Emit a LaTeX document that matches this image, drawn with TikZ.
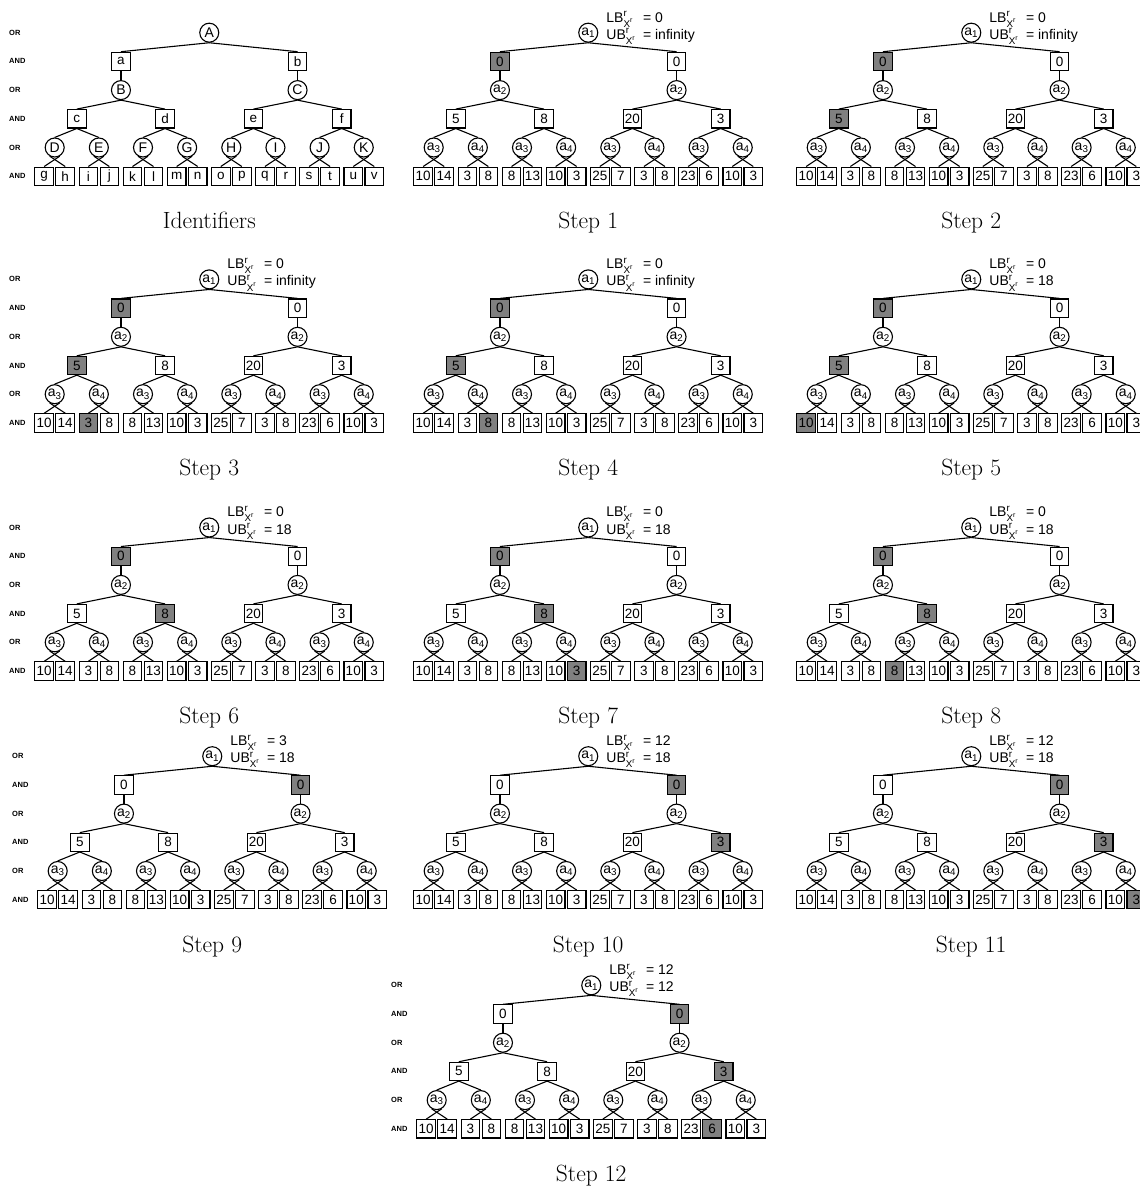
\documentclass[tikz,border=0pt]{standalone}
\usepackage{amsmath}
\usepackage{fontspec}
\setsansfont{Liberation Sans}
\definecolor{shd}{gray}{0.5}
\tikzset{
  edge/.style={line width=1.1pt},
  andbox/.style={draw, line width=1.1pt, minimum width=18.6pt, minimum height=18.3pt, inner sep=0pt, font=\sffamily\fontsize{13.5}{14}\selectfont},
  orcirc/.style={draw, circle, fill=white, line width=1.1pt, minimum size=19pt, inner sep=0pt, font=\sffamily\fontsize{14}{14}\selectfont},
  lvl/.style={anchor=west, inner sep=0pt, font=\sffamily\bfseries\fontsize{7.5}{8}\selectfont},
  capt/.style={anchor=base, inner sep=0pt, font=\fontsize{23.5}{28}\selectfont},
  bnd/.style={anchor=base west, inner sep=0pt, font=\sffamily\fontsize{14}{16}\selectfont},
}
% label sets
\newcommand\useId{%
  \def\LRoot{A}%
  \def\LOne{a/B,b/C}%
  \def\LThree{c,d,e,f}%
  \def\LFour{D,E,F,G,H,I,J,K}%
  \def\LLeaf{g,h,i,j,k,l,m,n,o,p,q,r,s,t,u,v}}
\newcommand\useVal{%
  \def\LRoot{a\textsubscript{1}}%
  \def\LOne{0/a\textsubscript{2},0/a\textsubscript{2}}%
  \def\LThree{5,8,20,3}%
  \def\LFour{a\textsubscript{3},a\textsubscript{4},a\textsubscript{3},a\textsubscript{4},a\textsubscript{3},a\textsubscript{4},a\textsubscript{3},a\textsubscript{4}}%
  \def\LLeaf{10,14,3,8,8,13,10,3,25,7,3,8,23,6,10,3}}
% #1 name #2 ox #3 oy #4 shaded AND1 #5 shaded AND3 #6 shaded leaf #7 caption
\newcommand\drawtree[7]{%
\begin{scope}[shift={(#2,#3)}]
  \node[orcirc] (#1-r) at (209.25,0) {\LRoot};
  \foreach \lab/\olab [count=\j] in \LOne {
    \pgfmathsetmacro\xx{120.95+176.6*(\j-1)}
    \ifnum\j=#4\relax\def\fc{shd}\else\def\fc{white}\fi
    \node[andbox,fill=\fc] (#1-A\j) at (\xx,28.7) {\lab};
    \node[orcirc] (#1-O\j) at (\xx,57.4) {\olab};
    \draw[edge] (#1-r.south) -- (#1-A\j.north);
    \draw[edge] (#1-A\j.south) -- (#1-O\j.north);
  }
  \foreach \lab [count=\j] in \LThree {
    \pgfmathsetmacro\xx{76.8+88.3*(\j-1)}
    \pgfmathtruncatemacro\pidx{(\j+1)/2}
    \ifnum\j=#5\relax\def\fc{shd}\else\def\fc{white}\fi
    \node[andbox,fill=\fc] (#1-B\j) at (\xx,86.1) {\lab};
    \draw[edge] (#1-O\pidx.south) -- (#1-B\j.north);
  }
  \foreach \lab [count=\j] in \LFour {
    \pgfmathsetmacro\xx{54.7+44.15*(\j-1)}
    \pgfmathtruncatemacro\pidx{(\j+1)/2}
    \node[orcirc] (#1-C\j) at (\xx,114.8) {\lab};
    \draw[edge] (#1-B\pidx.south) -- (#1-C\j.north);
  }
  \foreach \lab [count=\j] in \LLeaf {
    \pgfmathtruncatemacro\pidx{(\j+1)/2}
    \pgfmathsetmacro\xx{54.7+44.15*(\pidx-1)+21*(\j-2*\pidx)+10.5}
    \pgfmathtruncatemacro\ang{\j-2*\pidx==0 ? 240 : 300}
    \ifnum\j=#6\relax\def\fc{shd}\else\def\fc{white}\fi
    \node[andbox,fill=\fc] (#1-L\j) at (\xx,143.5) {\lab};
    \draw[edge] (#1-C\pidx.\ang) -- (#1-L\j.north);
  }
  \node[capt] (#1-cap) at (209.25,196) {#7};
\end{scope}}
% bounds text: #1 name #2 LB #3 UB
\newcommand\bounds[3]{%
\begin{scope}[shift={(#1-r.center)}]
  \node[bnd] (#1-lb) at (18,-10.7) {LB$^{\textsf{r}}_{\textsf{X}^{\textsf{r}}}$};
  \node[bnd] (#1-lbv) at (54.6,-10.7) {= #2};
  \node[bnd] (#1-ub) at (18,6.5) {UB$^{\textsf{r}}_{\textsf{X}^{\textsf{r}}}$};
  \node[bnd] (#1-ubv) at (54.6,6.5) {= #3};
\end{scope}}
% level labels: #1 name #2 ox #3 oy
\newcommand\levels[3]{%
\begin{scope}[shift={(#2,#3)}]
  \foreach \t [count=\k] in {OR,AND,OR,AND,OR,AND} {
    \node[lvl] (#1-lv\k) at (9,{28.7*(\k-1)}) {\t};
  }
\end{scope}}

\begin{document}
\begin{tikzpicture}[x=1pt,y=-1pt]
\useasboundingbox (0,0) rectangle (1140,1186);
\clip (0,0) rectangle (1140,1186);
% row 1
\useId
\drawtree{p0}{0}{32.7}{0}{0}{0}{Identifiers}
\levels{p0}{0}{32.7}
\useVal
\drawtree{p1}{379}{32.7}{1}{0}{0}{Step 1}
\bounds{p1}{0}{infinity}
\drawtree{p2}{762}{32.7}{1}{1}{0}{Step 2}
\bounds{p2}{0}{infinity}
% row 2
\drawtree{p3}{0}{279.4}{1}{1}{3}{Step 3}
\levels{p3}{0}{279.4}
\bounds{p3}{0}{infinity}
\drawtree{p4}{379}{279.4}{1}{1}{4}{Step 4}
\bounds{p4}{0}{infinity}
\drawtree{p5}{762}{279.4}{1}{1}{1}{Step 5}
\bounds{p5}{0}{18}
% row 3
\drawtree{p6}{0}{527.5}{1}{2}{0}{Step 6}
\levels{p6}{0}{527.5}
\bounds{p6}{0}{18}
\drawtree{p7}{379}{527.5}{1}{2}{8}{Step 7}
\bounds{p7}{0}{18}
\drawtree{p8}{762}{527.5}{1}{2}{5}{Step 8}
\bounds{p8}{0}{18}
% row 4
\drawtree{p9}{3}{756.2}{2}{0}{0}{Step 9}
\levels{p9}{3}{756.2}
\bounds{p9}{3}{18}
\drawtree{p10}{379}{756.2}{2}{4}{0}{Step 10}
\bounds{p10}{12}{18}
\drawtree{p11}{762}{756.2}{2}{4}{16}{Step 11}
\bounds{p11}{12}{18}
% row 5
\drawtree{p12}{382}{985.3}{2}{4}{14}{Step 12}
\levels{p12}{382}{985.3}
\bounds{p12}{12}{12}
\end{tikzpicture}
\end{document}
